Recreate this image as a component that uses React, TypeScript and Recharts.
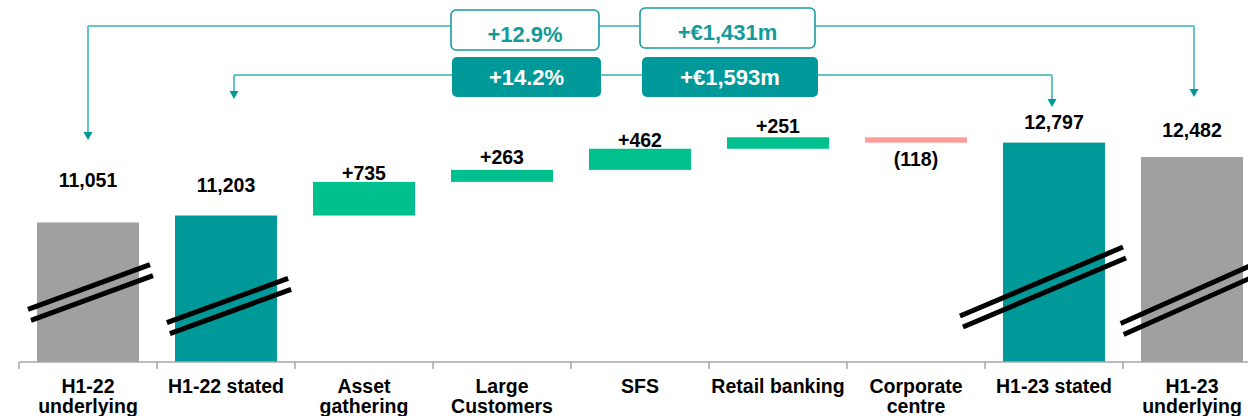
import React from 'react';
import { BarChart, Bar, XAxis, YAxis, LabelList } from 'recharts';

const categories = [
  'H1-22\nunderlying',
  'H1-22 stated',
  'Asset\ngathering',
  'Large\nCustomers',
  'SFS',
  'Retail banking',
  'Corporate\ncentre',
  'H1-23 stated',
  'H1-23\nunderlying',
];
const values = [11051, 11203, 735, 263, 462, 251, -118, 12797, 12482];
const kinds = ['underlying', 'stated', 'delta', 'delta', 'delta', 'delta', 'delta', 'stated', 'underlying'];
const valueLabels = ['11,051', '11,203', '+735', '+263', '+462', '+251', '(118)', '12,797', '12,482'];
const underlyingBadges = ['+12.9%', '+€1,431m'];
const statedBadges = ['+14.2%', '+€1,593m'];

const AXIS_MIN = 8000;
const AXIS_MAX = 15500;

// geometry / style
const W = 1270;
const H = 416;
const M = { top: 19, right: 9, bottom: 0, left: 19 };
const XH = 54;
const N = categories.length;
const BAND = (W - M.left - M.right) / N;
const FONT = '"Liberation Sans", Arial, Helvetica, sans-serif';
const C_GRAY = '#A0A0A0';
const C_TEAL = '#009999';
const C_GREEN = '#00C08D';
const C_RED = '#FF9C9C';
const C_LINE = '#62C4C4';

const xc = (i: number) => M.left + BAND * (i + 0.5);

const LABEL_GAP = [35, 24, 2, 6, 2, 4, 23, 14, 20];
const BREAKS: Record<number, { dx: number; dy: number; len: number; ang: number }> = {
  0: { dx: 2.5, dy: 69.5, len: 130, ang: 20.2 },
  1: { dx: 3, dy: 56, len: 129, ang: 20 },
  7: { dx: -11, dy: 75, len: 177, ang: 22.9 },
  8: { dx: 11, dy: 69, len: 177, ang: 24 },
};

let running = 0;
const data = categories.map((name, i) => {
  const v = values[i];
  let range: number[];
  if (kinds[i] === 'delta') {
    const lo = running;
    const hi = running + v;
    range = [Math.min(lo, hi), Math.max(lo, hi)];
    running += v;
  } else {
    range = [AXIS_MIN, v];
    if (kinds[i] === 'stated') running = v;
  }
  return { name, range, label: valueLabels[i], kind: kinds[i], delta: v };
});

const BarShape = (props: any) => {
  const { x, y, width, height, payload } = props;
  const idx = categories.indexOf(payload?.name);
  const top = Math.min(y, y + height);
  const h = Math.abs(height);
  const bottom = top + h;
  const kind = kinds[idx];
  const fill =
    kind === 'underlying' ? C_GRAY : kind === 'stated' ? C_TEAL : values[idx] < 0 ? C_RED : C_GREEN;
  const brk = BREAKS[idx];
  let lines: React.ReactNode = null;
  if (brk) {
    const cx = x + width / 2 + brk.dx;
    const cy = bottom - brk.dy;
    const a = (brk.ang * Math.PI) / 180;
    const hx = (Math.cos(a) * brk.len) / 2;
    const hy = (Math.sin(a) * brk.len) / 2;
    const offs = [
      [-1.5, -5.5],
      [1.5, 5.5],
    ];
    lines = offs.map(([ox, oy], k) => (
      <line
        key={k}
        x1={cx + ox - hx}
        y1={cy + oy + hy}
        x2={cx + ox + hx}
        y2={cy + oy - hy}
        stroke="#000"
        strokeWidth={5}
      />
    ));
  }
  return (
    <g>
      <rect x={x} y={top} width={width} height={h} fill={fill} />
      {lines}
    </g>
  );
};

const renderLabel = (p: any) => {
  const { x, y, width, height, value } = p;
  const idx = valueLabels.indexOf(value);
  const top = Math.min(y, y + height);
  const bottom = Math.max(y, y + height);
  const neg = kinds[idx] === 'delta' && values[idx] < 0;
  const ty = neg ? bottom + LABEL_GAP[idx] : top - LABEL_GAP[idx];
  return (
    <text
      x={x + width / 2}
      y={ty}
      textAnchor="middle"
      fontFamily={FONT}
      fontWeight="bold"
      fontSize={19.5}
      fill="#000"
    >
      {value}
    </text>
  );
};

const AxisTick = (props: any) => {
  const { x, y, payload } = props;
  const lines = String(payload.value).split('\n');
  return (
    <g>
      <line x1={x - BAND / 2} y1={y - 7} x2={x - BAND / 2} y2={y} stroke="#A6A6A6" strokeWidth={1.5} />
      <text textAnchor="middle" fontFamily={FONT} fontWeight="bold" fontSize={19.5} fill="#000">
        {lines.map((l, k) => (
          <tspan key={k} x={x} y={y + 24 + k * 20}>
            {l}
          </tspan>
        ))}
      </text>
    </g>
  );
};

const Arrow = ({ x, yTop, tip }: { x: number; yTop: number; tip: number }) => (
  <g>
    <line x1={x} y1={yTop} x2={x} y2={tip - 7} stroke={C_LINE} strokeWidth={2} />
    <polygon points={`${x - 4.5},${tip - 8} ${x + 4.5},${tip - 8} ${x},${tip}`} fill={C_TEAL} />
  </g>
);

const Badge = ({
  cx,
  y,
  w,
  h,
  text,
  filled,
  base,
}: {
  cx: number;
  y: number;
  w: number;
  h: number;
  text: string;
  filled: boolean;
  base: number;
}) => (
  <g>
    <rect
      x={cx - w / 2}
      y={y}
      width={w}
      height={h}
      rx={5}
      ry={5}
      fill={filled ? C_TEAL : '#fff'}
      stroke={filled ? 'none' : '#199C9C'}
      strokeWidth={1.6}
    />
    <text
      x={cx}
      y={base}
      textAnchor="middle"
      fontFamily={FONT}
      fontWeight="bold"
      fontSize={22}
      fill={filled ? '#fff' : '#129B9B'}
    >
      {text}
    </text>
  </g>
);

const Overlay = () => {
  const oL = xc(0);
  const oR = xc(8) + 2;
  const iL = xc(1) + 8;
  const iR = xc(7) - 2;
  const yO = 26;
  const yI = 75;
  return (
    <svg
      width={W}
      height={H}
      style={{ position: 'absolute', left: 0, top: 0, pointerEvents: 'none' }}
    >
      <line x1={oL} y1={yO} x2={oR} y2={yO} stroke={C_LINE} strokeWidth={2} />
      <Arrow x={oL} yTop={yO} tip={140} />
      <Arrow x={oR} yTop={yO} tip={97} />
      <line x1={iL} y1={yI} x2={iR} y2={yI} stroke={C_LINE} strokeWidth={2} />
      <Arrow x={iL} yTop={yI} tip={99} />
      <Arrow x={iR} yTop={yI} tip={107} />
      <Badge cx={525} y={10} w={148} h={40} text={underlyingBadges[0]} filled={false} base={41.5} />
      <Badge cx={727.5} y={8} w={175} h={40} text={underlyingBadges[1]} filled={false} base={40} />
      <Badge cx={526.5} y={57} w={149} h={40} text={statedBadges[0]} filled base={85} />
      <Badge cx={730} y={57} w={176} h={40} text={statedBadges[1]} filled base={85} />
    </svg>
  );
};

export default function App() {
  return (
    <div
      style={{
        position: 'absolute',
        left: 0,
        top: 0,
        width: 1248,
        height: 416,
        overflow: 'hidden',
        background: '#fff',
      }}
    >
      <div style={{ position: 'relative', width: W, height: H }}>
        <BarChart width={W} height={H} data={data} margin={M} barSize={102}>
          <YAxis hide domain={[AXIS_MIN, AXIS_MAX]} allowDataOverflow />
          <XAxis
            dataKey="name"
            height={XH}
            interval={0}
            tickLine={false}
            tickSize={7}
            tickMargin={0}
            axisLine={{ stroke: '#A6A6A6', strokeWidth: 1.5 }}
            tick={<AxisTick />}
          />
          <Bar dataKey="range" isAnimationActive={false} shape={<BarShape />}>
            <LabelList dataKey="label" content={renderLabel} />
          </Bar>
        </BarChart>
        <Overlay />
      </div>
    </div>
  );
}
